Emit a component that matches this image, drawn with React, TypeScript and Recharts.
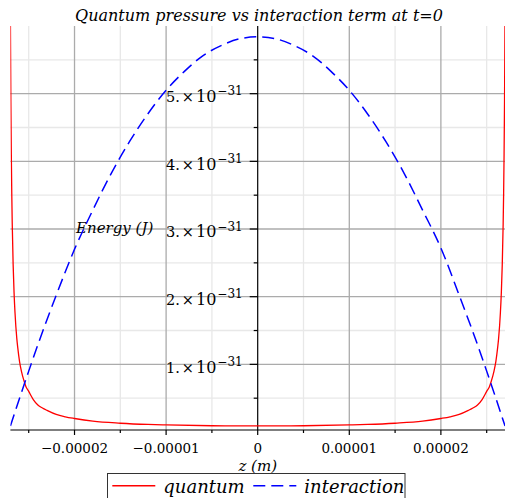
import React from 'react';
import { LineChart, Line, XAxis, YAxis, CartesianGrid, ReferenceLine, ReferenceDot, Legend } from 'recharts';

// z in units of 1e-5 m, energies in units of 1e-31 J
const zInteraction = [-2.7, -2.6, -2.5, -2.4, -2.2, -2.0, -1.8, -1.6, -1.4, -1.2, -1.0, -0.8, -0.6, -0.4, -0.2, 0, 0.2, 0.4, 0.6, 0.8, 1.0, 1.2, 1.4, 1.6, 1.8, 2.0, 2.2, 2.4, 2.5, 2.6, 2.7];
const interactionEnergy = [0.09, 0.5, 0.9, 1.29, 2.02, 2.7, 3.28, 3.82, 4.29, 4.7, 5.05, 5.33, 5.56, 5.71, 5.81, 5.84, 5.81, 5.71, 5.56, 5.33, 5.05, 4.7, 4.29, 3.82, 3.28, 2.72, 2.02, 1.29, 0.9, 0.5, 0.09];

const zQuantum = [-2.7, -2.695, -2.69, -2.685, -2.68, -2.67, -2.66, -2.65, -2.63, -2.62, -2.6, -2.58, -2.55, -2.53, -2.5, -2.45, -2.4, -2.35, -2.3, -2.2, -2.1, -2.0, -1.8, -1.5, -1.2, -1.0, -0.5, 0,
    0.5, 1.0, 1.2, 1.5, 1.8, 2.0, 2.1, 2.2, 2.3, 2.35, 2.4, 2.45, 2.5, 2.53, 2.55, 2.58, 2.6, 2.62, 2.63, 2.65, 2.66, 2.67, 2.68, 2.685, 2.69, 2.695, 2.7];
const quantumEnergy = [6.1, 4.9, 4.1, 3.52, 3.08, 2.47, 2.06, 1.77, 1.38, 1.25, 1.04, 0.9, 0.75, 0.67, 0.6, 0.48, 0.4, 0.355, 0.32, 0.26, 0.225, 0.2, 0.16, 0.13, 0.112, 0.105, 0.093, 0.09,
    0.093, 0.105, 0.112, 0.13, 0.16, 0.2, 0.225, 0.26, 0.32, 0.355, 0.4, 0.48, 0.6, 0.67, 0.75, 0.9, 1.04, 1.25, 1.38, 1.77, 2.06, 2.47, 3.08, 3.52, 4.1, 4.9, 6.1];

const seriesNames = ['quantum', 'interaction'];

const zTicks = [-2, -1, 0, 1, 2];
const zMinorTicks = [-2.5, -1.5, -0.5, 0.5, 1.5, 2.5];
const energyTicks = [1, 2, 3, 4, 5];
const energyMinorTicks = [0.5, 1.5, 2.5, 3.5, 4.5, 5.5];

const zDomain = [-2.7, 2.7];
const energyDomain = [0.03, 6];

const interactionData = zInteraction.map((z, i) => ({ z, e: interactionEnergy[i] }));
const quantumData = zQuantum.map((z, i) => ({ z, e: quantumEnergy[i] }));

const SERIF = 'DejaVu Serif';

const fmtZ = (v: number) => (v === 0 ? '0' : (v * 1e-5).toFixed(5).replace('-', '\u2212'));

const YTick = ({ cx, cy, value, major }: any) => {
    if (cx == null || cy == null) return null;
    return (
        <g>
            <line x1={cx - (major ? 8 : 4)} y1={cy} x2={cx} y2={cy} stroke="#000" strokeWidth={1.2} />
            {major && (
                <text x={cx - 15} y={cy + 8.4} textAnchor="end" fontFamily={SERIF} fontSize={14.5} fill="#000">
                    <tspan>{value}.</tspan>
                    <tspan dx={2}>×</tspan>
                    <tspan dx={2} fontSize={16}>10</tspan>
                    <tspan dx={1} dy={-6.7} fontSize={12}>−31</tspan>
                </text>
            )}
        </g>
    );
};

const XMinorTick = ({ cx, cy }: any) => {
    if (cx == null || cy == null) return null;
    return <line x1={cx} y1={cy} x2={cx} y2={cy + 3} stroke="#000" strokeWidth={1.2} />;
};

const LegendBox = ({ payload }: any) => {
    const starts = [5.3, 146.3];
    const items = [...(payload || [])].sort((a: any, b: any) => seriesNames.indexOf(a.value) - seriesNames.indexOf(b.value));
    return (
        <svg width={300} height={40} style={{ display: 'block' }}>
            <rect x={0.5} y={0.5} width={297.5} height={40} fill="#fff" stroke="#333" strokeWidth={1} />
            {items.map((entry: any, i: number) => {
                const x0 = starts[i] ?? 0;
                return (
                    <g key={entry.value}>
                        <line x1={x0} y1={12.7} x2={x0 + 43} y2={12.7} stroke={entry.color} strokeWidth={1.4}
                            strokeDasharray={entry.payload?.strokeDasharray} />
                        <text x={x0 + 51} y={20} fontFamily={SERIF} fontStyle="italic" fontSize={18} fill="#000">{entry.value}</text>
                    </g>
                );
            })}
        </svg>
    );
};

export default function App() {
    return (
        <div style={{ position: 'absolute', left: 0, top: 0, width: 505, height: 498, overflow: 'hidden', background: '#fff' }}>
            <LineChart width={505} height={498} margin={{ top: 26, right: 0, bottom: 0, left: 10.4 }}>
                <CartesianGrid verticalValues={zMinorTicks} horizontalValues={energyMinorTicks} stroke="#e8e8e8" strokeWidth={1.3} />
                <CartesianGrid verticalValues={zTicks.filter(v => v !== 0)} horizontalValues={energyTicks} stroke="#ababab" strokeWidth={1.3} />
                <XAxis
                    type="number"
                    dataKey="z"
                    domain={zDomain}
                    ticks={zTicks}
                    interval={0}
                    allowDataOverflow
                    height={68}
                    tickSize={5}
                    tickMargin={8}
                    tickFormatter={fmtZ}
                    axisLine={{ stroke: '#000', strokeWidth: 1.2 }}
                    tickLine={{ stroke: '#000', strokeWidth: 1.2 }}
                    tick={{ fill: '#000', fontFamily: SERIF, fontSize: 13.5 }}
                    label={{
                        content: ({ viewBox }: any) => (
                            <text x={viewBox.x + viewBox.width / 2} y={viewBox.y + 40.5} textAnchor="middle"
                                fontFamily={SERIF} fontStyle="italic" fontSize={15} fill="#000">z (m)</text>
                        ),
                    }}
                />
                <YAxis type="number" domain={energyDomain} allowDataOverflow hide />
                <ReferenceLine x={0} stroke="#000" strokeWidth={1.2} />
                {zMinorTicks.map(v => (
                    <ReferenceDot key={`xm${v}`} x={v} y={energyDomain[0]} r={0} shape={(p: any) => <XMinorTick {...p} />} />
                ))}
                {energyMinorTicks.map(v => (
                    <ReferenceDot key={`ym${v}`} x={0} y={v} r={0} shape={(p: any) => <YTick {...p} value={v} />} />
                ))}
                {energyTicks.map(v => (
                    <ReferenceDot key={`y${v}`} x={0} y={v} r={0} shape={(p: any) => <YTick {...p} value={v} major />} />
                ))}
                <Line data={quantumData} dataKey="e" name={seriesNames[0]} type="monotone" stroke="#ff0000" strokeWidth={1.3}
                    dot={false} activeDot={false} isAnimationActive={false} />
                <Line data={interactionData} dataKey="e" name={seriesNames[1]} type="monotone" stroke="#0000ff" strokeWidth={1.5}
                    strokeDasharray="12 6" dot={false} activeDot={false} isAnimationActive={false} />
                <Legend layout="horizontal" verticalAlign="middle" align="center" content={<LegendBox />}
                    wrapperStyle={{ left: 106.5, top: 473, width: 300, height: 40 }} />
                <text x={259} y={20.7} textAnchor="middle" fontFamily={SERIF} fontStyle="italic" fontSize={16} fill="#000">
                    Quantum pressure vs interaction term at t=0
                </text>
                <text x={153.3} y={233} textAnchor="end" fontFamily={SERIF} fontStyle="italic" fontSize={15} fill="#000">
                    Energy (J)
                </text>
            </LineChart>
        </div>
    );
}
